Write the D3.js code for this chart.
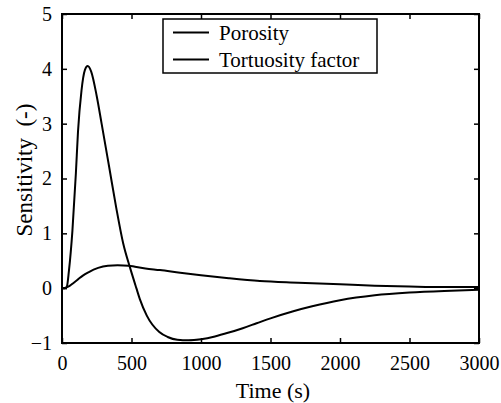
<!DOCTYPE html>
<html lang="en">
<head>
    <meta charset="UTF-8">
    <title>Sensitivity vs Time</title>
    <script src="https://d3js.org/d3.v7.min.js"></script>
    <style>
        body { margin: 0; background: #fff; }
        text { font-family: "Times New Roman", Times, "Liberation Serif", "DejaVu Serif", serif; }
    </style>
</head>
<body>
    <div id="chart"></div>

    <script>
        // Data
        const seriesNames = ["Porosity", "Tortuosity factor"];

        const peakTime = [0, 20, 35, 50, 75, 100, 115, 140, 165, 185, 210, 250, 285, 340, 390, 440, 490, 535, 560, 610, 700, 760, 830, 910, 1000, 1100, 1200, 1300, 1400, 1500, 1664, 1800, 2000, 2250, 2500, 2750, 3000];
        const peakValues = [0, 0, 0.03, 0.32, 1.05, 2.1, 2.85, 3.6, 3.98, 4.05, 3.95, 3.5, 3.0, 2.2, 1.47, 0.82, 0.37, 0.0, -0.2, -0.5, -0.8, -0.89, -0.94, -0.95, -0.93, -0.88, -0.81, -0.73, -0.64, -0.55, -0.42, -0.33, -0.22, -0.13, -0.08, -0.05, -0.03];

        const flatTime = [0, 30, 55, 85, 115, 150, 190, 260, 330, 400, 480, 525, 600, 705, 850, 1000, 1200, 1424, 1700, 2000, 2250, 2500, 2750, 3000];
        const flatValues = [0, 0.01, 0.04, 0.1, 0.16, 0.23, 0.29, 0.37, 0.41, 0.42, 0.41, 0.39, 0.36, 0.33, 0.28, 0.234, 0.18, 0.13, 0.1, 0.07, 0.045, 0.03, 0.02, 0.02];

        const xTicks = [0, 500, 1000, 1500, 2000, 2500, 3000];
        const yTicks = [-1, 0, 1, 2, 3, 4, 5];

        const serif = '"Times New Roman", Times, "Liberation Serif", "DejaVu Serif", serif';
        const width = 501, height = 403;
        const margin = { top: 14, right: 22, bottom: 60, left: 62 };

        const svg = d3.select("#chart").append("svg")
            .attr("width", width)
            .attr("height", height)
            .attr("font-family", serif);

        const x = d3.scaleLinear().domain([0, 3000]).range([margin.left, width - margin.right]);
        const y = d3.scaleLinear().domain([-1, 5]).range([height - margin.bottom, margin.top]);

        const tickLen = 5;

        // ticks pointing inward on all four sides
        svg.append("g")
            .attr("transform", `translate(0,${y(-1)})`)
            .call(d3.axisBottom(x).tickValues(xTicks).tickSize(-tickLen).tickPadding(13).tickFormat(d3.format("d")))
            .call(g => g.attr("font-family", serif))
            .call(g => g.select(".domain").remove())
            .call(g => g.selectAll("line").attr("stroke-width", 1.5))
            .call(g => g.selectAll("text").attr("font-size", 20).attr("dy", "0.68em"));

        svg.append("g")
            .attr("transform", `translate(0,${y(5)})`)
            .call(d3.axisTop(x).tickValues(xTicks).tickSize(-tickLen).tickFormat(""))
            .call(g => g.select(".domain").remove())
            .call(g => g.selectAll("line").attr("stroke-width", 1.5));

        svg.append("g")
            .attr("transform", `translate(${x(0)},0)`)
            .call(d3.axisLeft(y).tickValues(yTicks).tickSize(-tickLen).tickPadding(10).tickFormat(d3.format("d")))
            .call(g => g.attr("font-family", serif))
            .call(g => g.select(".domain").remove())
            .call(g => g.selectAll("line").attr("stroke-width", 1.5))
            .call(g => g.selectAll("text").attr("font-size", 20));

        svg.append("g")
            .attr("transform", `translate(${x(3000)},0)`)
            .call(d3.axisRight(y).tickValues(yTicks).tickSize(-tickLen).tickFormat(""))
            .call(g => g.select(".domain").remove())
            .call(g => g.selectAll("line").attr("stroke-width", 1.5));

        // frame
        svg.append("rect")
            .attr("x", x(0))
            .attr("y", y(5))
            .attr("width", x(3000) - x(0))
            .attr("height", y(-1) - y(5))
            .attr("fill", "none")
            .attr("stroke", "#000")
            .attr("stroke-width", 2);

        const line = d3.line()
            .x(d => x(d[0]))
            .y(d => y(d[1]))
            .curve(d3.curveMonotoneX);

        const curves = [
            d3.zip(flatTime, flatValues),
            d3.zip(peakTime, peakValues)
        ];

        svg.selectAll(".curve")
            .data(curves)
            .join("path")
            .attr("class", "curve")
            .attr("d", line)
            .attr("fill", "none")
            .attr("stroke", "#000")
            .attr("stroke-width", 2);

        // axis titles
        svg.append("text")
            .attr("x", 273)
            .attr("y", 398)
            .attr("text-anchor", "middle")
            .attr("font-size", 22)
            .text("Time (s)");

        svg.append("text")
            .attr("transform", `translate(32,170) rotate(-90)`)
            .attr("text-anchor", "middle")
            .attr("font-size", 23)
            .style("white-space", "pre")
            .text("Sensitivity  (-)");

        // legend
        const legend = svg.append("g");
        legend.append("rect")
            .attr("x", 163)
            .attr("y", 19)
            .attr("width", 214)
            .attr("height", 54)
            .attr("fill", "#fff")
            .attr("stroke", "#000")
            .attr("stroke-width", 1.5);

        seriesNames.forEach((name, i) => {
            const ly = 32.5 + i * 27;
            legend.append("line")
                .attr("x1", 173).attr("x2", 209)
                .attr("y1", ly).attr("y2", ly)
                .attr("stroke", "#000")
                .attr("stroke-width", 2);
            legend.append("text")
                .attr("x", 219)
                .attr("y", ly + 7)
                .attr("font-size", 21)
                .text(name);
        });
    </script>
</body>
</html>
